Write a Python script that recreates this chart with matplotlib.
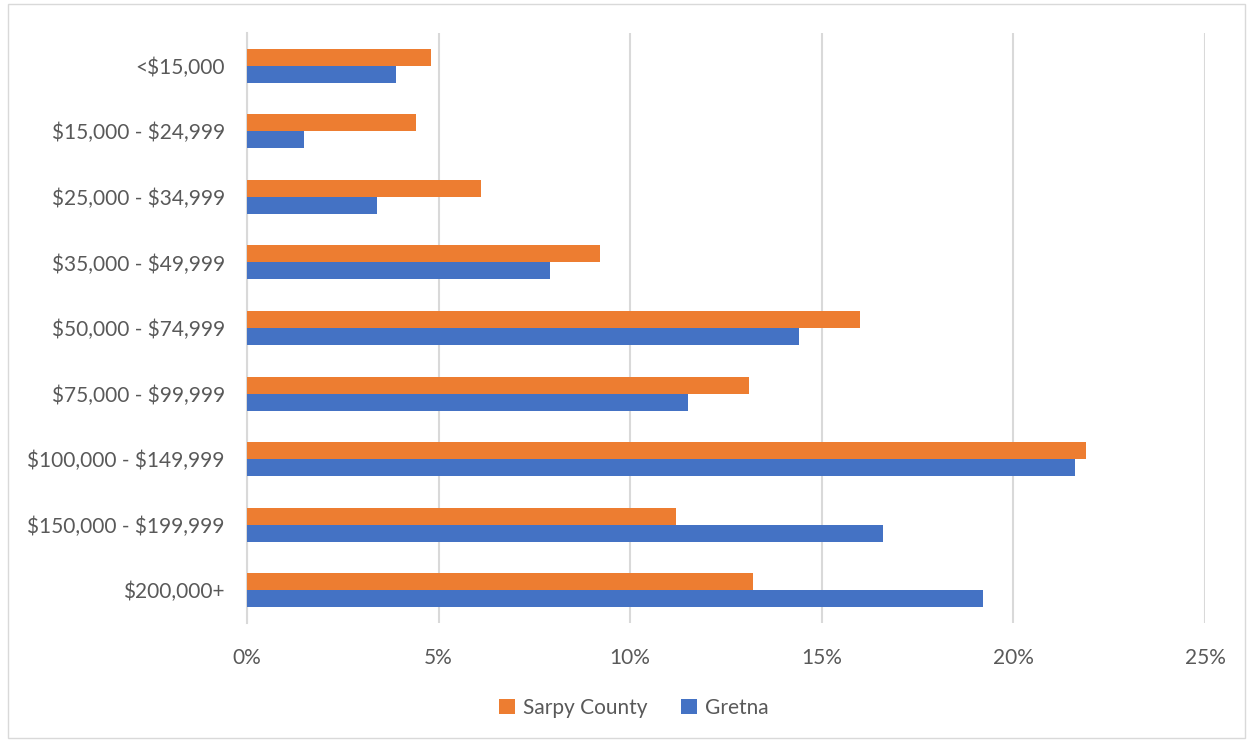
import matplotlib
matplotlib.use("Agg")
import matplotlib.pyplot as plt
import numpy as np
from matplotlib.patches import Rectangle

categories = ["<$15,000", "$15,000 - $24,999", "$25,000 - $34,999", "$35,000 - $49,999",
              "$50,000 - $74,999", "$75,000 - $99,999", "$100,000 - $149,999",
              "$150,000 - $199,999", "$200,000+"]
sarpy = [4.8, 4.4, 6.1, 9.2, 16.0, 13.1, 21.9, 11.2, 13.2]
gretna = [3.9, 1.5, 3.4, 7.9, 14.4, 11.5, 21.6, 16.6, 19.2]
xticks = [0, 5, 10, 15, 20, 25]
xticklabels = ["0%", "5%", "10%", "15%", "20%", "25%"]

plt.rcParams['font.family'] = ['Lato', 'DejaVu Sans']
plt.rcParams['text.parse_math'] = False
fig = plt.figure(figsize=(12.53, 7.42), dpi=100)
fig.patch.set_facecolor("white")
fig.patches.append(Rectangle((8/1253, 4/742), 1 - 16/1253, 1 - 8/742, transform=fig.transFigure,
                             fill=False, edgecolor="#d9d9d9", linewidth=1))
ax = fig.add_axes([247/1253, (742-623)/742, (1205-247)/1253, (623-33)/742])

y = np.arange(len(categories))
h = 0.26
ax.barh(y - h/2, sarpy, height=h, color="#ED7D31", label="Sarpy County", zorder=3)
ax.barh(y + h/2, gretna, height=h, color="#4472C4", label="Gretna", zorder=3)

ax.set_ylim(len(categories) - 0.5, -0.5)
ax.set_xlim(0, 25)
ax.set_yticks(y)
ax.set_yticklabels(categories, fontsize=15, color="#595959")
ax.set_xticks(xticks)
ax.set_xticklabels(xticklabels, fontsize=15, color="#595959")
ax.tick_params(axis='y', length=0, pad=16)
ax.tick_params(axis='x', length=0, pad=18)
ax.xaxis.grid(True, color="#d9d9d9", linewidth=1.5, zorder=0)
for s in ["top", "right", "bottom"]:
    ax.spines[s].set_visible(False)
ax.spines["left"].set_color("#d9d9d9")
ax.spines["left"].set_linewidth(1.5)

leg = fig.legend(loc="center", bbox_to_anchor=(634/1253, 1 - 708/742), ncol=2, frameon=False,
                 fontsize=15, handlelength=0.75, handleheight=0.75, columnspacing=1.6, handletextpad=0.4)
for t in leg.get_texts():
    t.set_color("#595959")

fig.savefig("out.png", dpi=100, facecolor="white")
